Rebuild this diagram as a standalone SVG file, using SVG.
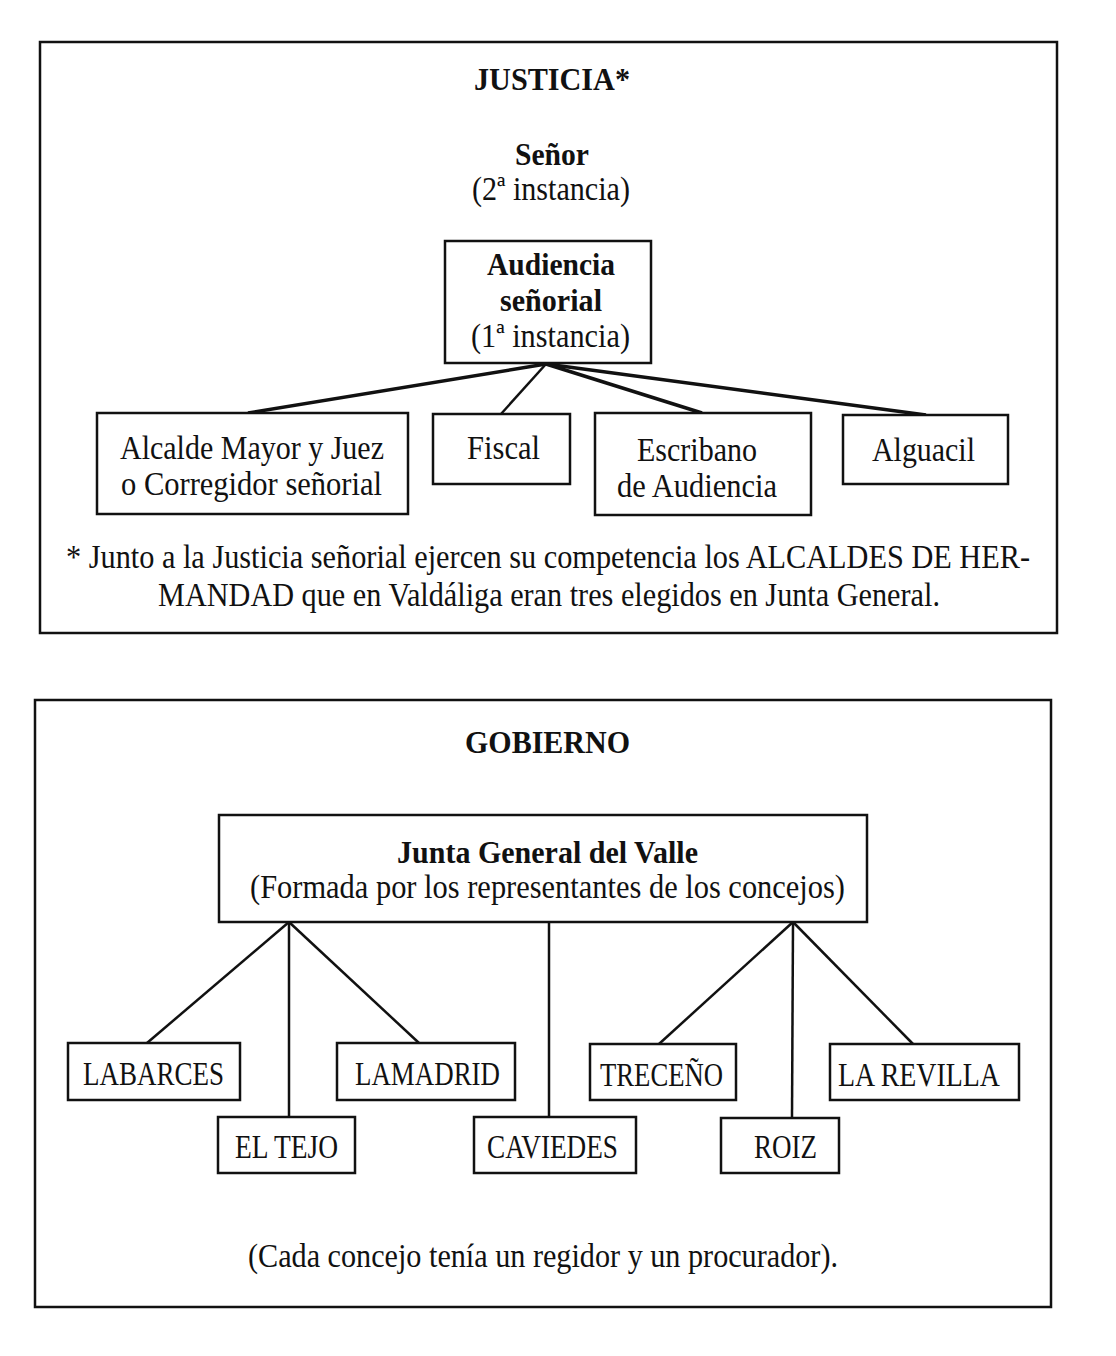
<svg xmlns="http://www.w3.org/2000/svg" width="1116" height="1356" viewBox="0 0 1116 1356">
<style>
  text { font-family: "Liberation Serif", "Times New Roman", serif; fill: #111; }
  .t { font-size: 33px; }
  .b { font-size: 32px; font-weight: bold; }
  .frame { fill: none; stroke: #111; stroke-width: 2.5; }
  .box { fill: #fff; stroke: #111; stroke-width: 2.5; }
  .c line { stroke: #111; stroke-width: 2.5; }
  .c .thick { stroke-width: 3.5; }
</style>
<rect width="1116" height="1356" fill="#fff"/>

<!-- JUSTICIA panel -->
<rect class="frame" x="40" y="42" width="1017" height="591"/>
<text class="b" x="474" y="90" textLength="156" lengthAdjust="spacingAndGlyphs">JUSTICIA*</text>
<g id="senor">
  <text class="b" x="515" y="165" textLength="74" lengthAdjust="spacingAndGlyphs">Señor</text>
  <text class="t" x="472" y="200" textLength="158" lengthAdjust="spacingAndGlyphs">(2ª instancia)</text>
</g>

<g class="c" id="connectors-justicia">
  <line class="thick" x1="546" y1="364" x2="248" y2="413"/>
  <line x1="546" y1="364" x2="501" y2="414"/>
  <line class="thick" x1="546" y1="364" x2="702" y2="413"/>
  <line class="thick" x1="546" y1="364" x2="926" y2="415"/>
</g>

<g id="audiencia">
  <rect class="box" x="445" y="241" width="206" height="122"/>
  <text class="b" x="487" y="275" textLength="128" lengthAdjust="spacingAndGlyphs">Audiencia</text>
  <text class="b" x="500" y="311" textLength="102" lengthAdjust="spacingAndGlyphs">señorial</text>
  <text class="t" x="471" y="347" textLength="159" lengthAdjust="spacingAndGlyphs">(1ª instancia)</text>
</g>
<g id="alcalde">
  <rect class="box" x="97" y="413" width="311" height="101"/>
  <text class="t" x="120" y="459" textLength="264" lengthAdjust="spacingAndGlyphs">Alcalde Mayor y Juez</text>
  <text class="t" x="121" y="495" textLength="261" lengthAdjust="spacingAndGlyphs">o Corregidor señorial</text>
</g>
<g id="fiscal">
  <rect class="box" x="433" y="414" width="137" height="70"/>
  <text class="t" x="467" y="459" textLength="73" lengthAdjust="spacingAndGlyphs">Fiscal</text>
</g>
<g id="escribano">
  <rect class="box" x="595" y="413" width="216" height="102"/>
  <text class="t" x="637" y="461" textLength="120" lengthAdjust="spacingAndGlyphs">Escribano</text>
  <text class="t" x="617" y="497" textLength="160" lengthAdjust="spacingAndGlyphs">de Audiencia</text>
</g>
<g id="alguacil">
  <rect class="box" x="843" y="415" width="165" height="69"/>
  <text class="t" x="872" y="461" textLength="103" lengthAdjust="spacingAndGlyphs">Alguacil</text>
</g>
<g id="nota">
  <text class="t" x="66" y="568" textLength="964" lengthAdjust="spacingAndGlyphs">* Junto a la Justicia señorial ejercen su competencia los ALCALDES DE HER-</text>
  <text class="t" x="158" y="606" textLength="782" lengthAdjust="spacingAndGlyphs">MANDAD que en Valdáliga eran tres elegidos en Junta General.</text>
</g>

<!-- GOBIERNO panel -->
<rect class="frame" x="35" y="700" width="1016" height="607"/>
<text class="b" x="465" y="753" textLength="165" lengthAdjust="spacingAndGlyphs">GOBIERNO</text>

<g class="c" id="connectors-gobierno">
  <line x1="289" y1="922" x2="147" y2="1043"/>
  <line x1="289" y1="922" x2="289" y2="1117"/>
  <line x1="289" y1="922" x2="419" y2="1043"/>
  <line x1="549" y1="922" x2="549" y2="1117"/>
  <line x1="793" y1="922" x2="659" y2="1044"/>
  <line x1="793" y1="922" x2="792" y2="1118"/>
  <line x1="793" y1="922" x2="913" y2="1044"/>
</g>

<g id="junta">
  <rect class="box" x="219" y="815" width="648" height="107"/>
  <text class="b" x="397" y="863" textLength="301" lengthAdjust="spacingAndGlyphs">Junta General del Valle</text>
  <text class="t" x="250" y="898" textLength="595" lengthAdjust="spacingAndGlyphs">(Formada por los representantes de los concejos)</text>
</g>
<g id="labarces">
  <rect class="box" x="68" y="1043" width="172" height="57"/>
  <text class="t" x="83" y="1085" textLength="141" lengthAdjust="spacingAndGlyphs">LABARCES</text>
</g>
<g id="lamadrid">
  <rect class="box" x="337" y="1043" width="178" height="57"/>
  <text class="t" x="355" y="1085" textLength="145" lengthAdjust="spacingAndGlyphs">LAMADRID</text>
</g>
<g id="treceno">
  <rect class="box" x="590" y="1044" width="146" height="56"/>
  <text class="t" x="600" y="1086" textLength="123" lengthAdjust="spacingAndGlyphs">TRECEÑO</text>
</g>
<g id="larevilla">
  <rect class="box" x="830" y="1044" width="189" height="56"/>
  <text class="t" x="838" y="1086" textLength="162" lengthAdjust="spacingAndGlyphs">LA REVILLA</text>
</g>
<g id="eltejo">
  <rect class="box" x="218" y="1117" width="137" height="56"/>
  <text class="t" x="235" y="1158" textLength="103" lengthAdjust="spacingAndGlyphs">EL TEJO</text>
</g>
<g id="caviedes">
  <rect class="box" x="474" y="1117" width="162" height="56"/>
  <text class="t" x="487" y="1158" textLength="131" lengthAdjust="spacingAndGlyphs">CAVIEDES</text>
</g>
<g id="roiz">
  <rect class="box" x="721" y="1118" width="118" height="55"/>
  <text class="t" x="754" y="1158" textLength="63" lengthAdjust="spacingAndGlyphs">ROIZ</text>
</g>
<text class="t" x="248" y="1267" textLength="590" lengthAdjust="spacingAndGlyphs">(Cada concejo tenía un regidor y un procurador).</text>
</svg>
